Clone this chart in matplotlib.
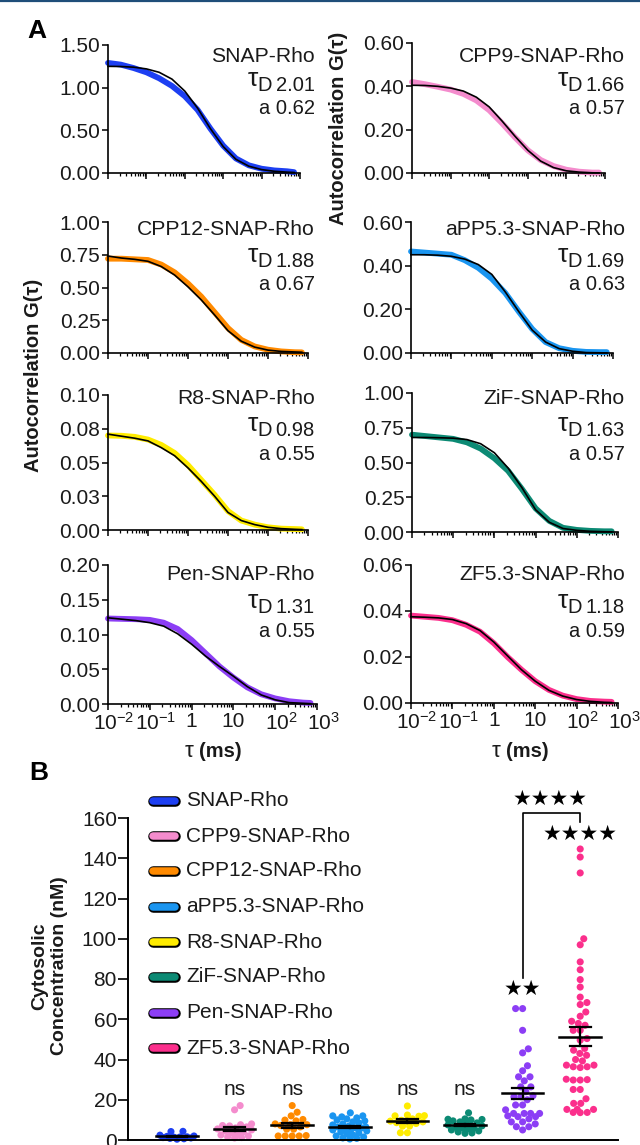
import numpy as np
import matplotlib
matplotlib.use("Agg")
import matplotlib.pyplot as plt
from matplotlib.lines import Line2D
from matplotlib.ticker import FixedLocator, LogLocator, NullFormatter
from matplotlib.transforms import ScaledTranslation

plt.rcParams['font.family'] = ['Liberation Sans', 'DejaVu Sans']
plt.rcParams['mathtext.fontset'] = 'custom'
plt.rcParams['mathtext.rm'] = 'Liberation Sans'
plt.rcParams['mathtext.it'] = 'Liberation Sans:italic'
plt.rcParams['mathtext.bf'] = 'Liberation Sans:bold'

W, H = 640, 1145
TXT = '#1a1a1a'

# ---------- data: panel A (FCS autocorrelation) ----------
names = ["SNAP-Rho", "CPP9-SNAP-Rho", "CPP12-SNAP-Rho", "aPP5.3-SNAP-Rho",
         "R8-SNAP-Rho", "ZiF-SNAP-Rho", "Pen-SNAP-Rho", "ZF5.3-SNAP-Rho"]
colors = ['#1d3ff2', '#f48ccd', '#ff8a00', '#1a95f0',
          '#ffec00', '#0c8a74', '#8c3ef5', '#fb2f8c']
tau_d = ["2.01", "1.66", "1.88", "1.69", "0.98", "1.63", "1.31", "1.18"]
a_val = ["0.62", "0.57", "0.67", "0.63", "0.55", "0.57", "0.55", "0.59"]

tau = [0.01, 0.0215, 0.0464, 0.1, 0.215, 0.464, 1, 2.15, 4.64,
       10, 21.5, 46.4, 100, 215, 464, 700]

g_data = [
    [1.29, 1.27, 1.23, 1.18, 1.11, 1.02, 0.90, 0.74, 0.52, 0.32, 0.17, 0.09, 0.05, 0.03, 0.02, 0.01],
    [0.42, 0.41, 0.398, 0.385, 0.365, 0.335, 0.29, 0.23, 0.165, 0.105, 0.06, 0.032, 0.015, 0.006, 0.002, 0.002],
    [0.72, 0.72, 0.715, 0.71, 0.675, 0.615, 0.53, 0.43, 0.31, 0.19, 0.10, 0.05, 0.025, 0.012, 0.006, 0.005],
    [0.465, 0.46, 0.455, 0.45, 0.425, 0.39, 0.34, 0.275, 0.19, 0.11, 0.05, 0.022, 0.01, 0.005, 0.004, 0.004],
    [0.070, 0.0698, 0.069, 0.067, 0.063, 0.057, 0.048, 0.037, 0.026, 0.014, 0.007, 0.004, 0.002, 0.001, 0.0007, 0.0005],
    [0.70, 0.69, 0.68, 0.67, 0.645, 0.60, 0.53, 0.44, 0.31, 0.17, 0.08, 0.03, 0.015, 0.008, 0.005, 0.005],
    [0.123, 0.1225, 0.122, 0.121, 0.117, 0.108, 0.092, 0.073, 0.054, 0.038, 0.024, 0.014, 0.008, 0.004, 0.002, 0.0015],
    [0.038, 0.0375, 0.037, 0.036, 0.034, 0.031, 0.026, 0.020, 0.0145, 0.0095, 0.0057, 0.0032, 0.0017, 0.0009, 0.0006, 0.0005],
]
g_fit = [
    [1.25, 1.248, 1.24, 1.22, 1.18, 1.10, 0.96, 0.76, 0.52, 0.31, 0.16, 0.08, 0.04, 0.02, 0.01, 0.006],
    [0.405, 0.404, 0.40, 0.392, 0.378, 0.35, 0.305, 0.24, 0.17, 0.105, 0.055, 0.025, 0.01, 0.004, 0.001, 0.0005],
    [0.74, 0.725, 0.715, 0.70, 0.66, 0.595, 0.505, 0.405, 0.29, 0.17, 0.09, 0.045, 0.022, 0.012, 0.008, 0.006],
    [0.45, 0.45, 0.448, 0.443, 0.43, 0.405, 0.36, 0.28, 0.19, 0.105, 0.05, 0.02, 0.008, 0.002, 0.001, 0.0005],
    [0.071, 0.0695, 0.068, 0.066, 0.061, 0.055, 0.046, 0.036, 0.025, 0.013, 0.007, 0.004, 0.002, 0.001, 0.0005, 0.0003],
    [0.68, 0.68, 0.678, 0.675, 0.665, 0.635, 0.57, 0.46, 0.32, 0.16, 0.07, 0.025, 0.012, 0.005, 0.002, 0.001],
    [0.124, 0.122, 0.120, 0.117, 0.112, 0.101, 0.086, 0.069, 0.054, 0.040, 0.025, 0.013, 0.006, 0.002, 0.001, 0.0005],
    [0.0375, 0.0373, 0.037, 0.0363, 0.0345, 0.0315, 0.0265, 0.0205, 0.0145, 0.0095, 0.0055, 0.003, 0.0015, 0.0007, 0.0003, 0.0002],
]

y_ticks = [
    [0, 0.5, 1.0, 1.5], [0, 0.2, 0.4, 0.6], [0, 0.25, 0.5, 0.75, 1.0], [0, 0.2, 0.4, 0.6],
    [0, 0.025, 0.05, 0.075, 0.1], [0, 0.25, 0.5, 0.75, 1.0], [0, 0.05, 0.1, 0.15, 0.2], [0, 0.02, 0.04, 0.06],
]
y_labels = [
    ["0.00", "0.50", "1.00", "1.50"], ["0.00", "0.20", "0.40", "0.60"],
    ["0.00", "0.25", "0.50", "0.75", "1.00"], ["0.00", "0.20", "0.40", "0.60"],
    ["0.00", "0.03", "0.05", "0.08", "0.10"], ["0.00", "0.25", "0.50", "0.75", "1.00"],
    ["0.00", "0.05", "0.10", "0.15", "0.20"], ["0.00", "0.02", "0.04", "0.06"],
]
x_ticks = [0.01, 0.1, 1, 10, 100, 1000]
x_labels = ['10$^{-2}$', '10$^{-1}$', '1', '10', '10$^{2}$', '10$^{3}$']

# ---------- data: panel B (cytosolic concentration, nM) ----------
conc = [
    [4.3, 4.2, 2.4, 2.0, 1.8, 1.6, 1.5, 1.4, 1.2, 1.0, 0.8, 0.6, 0.4],
    [17.1, 15.0, 8.0, 7.6, 7.2, 7.0, 6.5, 6.0, 5.5, 5.0, 4.5, 4.0, 3.5, 3.0, 2.5, 2.0, 1.5, 1.2, 1.0],
    [17.1, 13.8, 12.0, 10.2, 9.9, 9.5, 8.0, 7.6, 7.6, 7.2, 6.5, 5.4, 5.4, 2.2, 2.0, 2.0, 2.0, 2.0],
    [13.5, 12, 12, 11.5, 11, 10.5, 10, 9.5, 9, 8.5, 8, 7.5, 7, 6.5, 6.5, 6, 6, 5.5, 5, 5,
     4.5, 4, 3.5, 3, 2.5, 2, 1.5, 1, 0.8, 0.5],
    [16.9, 12.4, 12.1, 12.0, 11.8, 10.5, 9.8, 9.4, 9.4, 9.0, 8.6, 8.2, 6.9, 6.9, 3.6, 3.6],
    [13.5, 10.5, 10.3, 10.2, 10, 9.5, 9, 8.5, 8, 7.5, 7, 6.5, 6, 6, 5.5, 5, 4.5, 4, 3.5, 3.3],
    [65.3, 65.3, 54.5, 45.3, 43.3, 36.9, 34.4, 31.4, 31.4, 29.4, 26.4, 26.4, 24, 22, 21.5, 21.5,
     20, 17.4, 17.4, 15, 13.2, 13.2, 13.2, 13.2, 12, 11.6, 11.6, 10.5, 9, 9, 8, 6.6, 6.6, 5],
    [144.6, 140.6, 132.7, 100, 97, 88.5, 84.6, 79.7, 76, 71, 68.3, 67.3, 63.6, 61.5, 59, 57.9, 57,
     54.5, 54.5, 50.4, 49.6, 45.5, 44.6, 43, 42.1, 40, 39.3, 37.2, 37.2, 36.4, 36.4, 36, 30.2,
     30, 29.8, 29.8, 25.1, 25.1, 20.5, 18.2, 18.2, 15.2, 15.2, 15.2, 13.7, 13.7, 13.6],
]
sig_labels = ["", "ns", "ns", "ns", "ns", "ns", "★★", "★★★★"]
b_ticks = [0, 20, 40, 60, 80, 100, 120, 140, 160]


def fx(x):
    return x / W


def fy(y):
    return 1 - y / H


def px_axes(l, r, t, b):
    return fig.add_axes([fx(l), fy(b), (r - l) / W, (b - t) / H])


fig = plt.figure(figsize=(W / 100, H / 100), dpi=100)
fig.add_artist(Line2D([0, 1], [fy(1), fy(1)], color='#1f4e79', lw=1.6,
                      transform=fig.transFigure))

# ---------- panel A ----------
boxes = [(108, 300, 45, 173), (412, 605, 43, 173),
         (108, 308, 222, 353), (411, 613, 222, 353),
         (108, 308, 395, 530), (412, 618, 393, 532),
         (108, 317, 565, 704), (411, 618, 565, 703)]
name_base = [62, 235, 404, 580]
val_base = [91, 267, 436, 613]
a_base = [114, 290, 460, 637]
text_right = [315, 625]

value_texts = []
for i in range(8):
    row, col = divmod(i, 2)
    ax = px_axes(*boxes[i])
    ax.plot(tau, g_data[i], color=colors[i], lw=4.2, solid_capstyle='round',
            solid_joinstyle='round', clip_on=False, zorder=2)
    ax.plot(tau, g_fit[i], color='black', lw=1.2, clip_on=False, zorder=3)
    ax.set_xscale('log')
    ax.set_xlim(0.01, 1000)
    ax.set_ylim(0, y_ticks[i][-1])
    ax.xaxis.set_major_locator(FixedLocator(x_ticks))
    ax.xaxis.set_minor_locator(LogLocator(base=10, subs=np.arange(2, 10), numticks=20))
    ax.xaxis.set_minor_formatter(NullFormatter())
    ax.yaxis.set_major_locator(FixedLocator(y_ticks[i]))
    ax.set_yticklabels(y_labels[i])
    for s in ['top', 'right']:
        ax.spines[s].set_visible(False)
    for s in ['left', 'bottom']:
        ax.spines[s].set_linewidth(1.2)
    ax.tick_params(which='major', direction='out', length=4.5, width=1.1,
                   labelsize=15, labelcolor=TXT, pad=1)
    ax.tick_params(which='minor', direction='out', length=2.2, width=0.9)
    if row == 3:
        ax.set_xticklabels(x_labels)
        for lab in ax.get_xticklabels():
            if '$' in lab.get_text():
                lab.set_transform(lab.get_transform() +
                                  ScaledTranslation(0.06, 0, fig.dpi_scale_trans))
    else:
        ax.tick_params(axis='x', labelbottom=False)

    xr = fx(text_right[col])
    fig.text(xr, fy(name_base[row]), names[i], ha='right', va='baseline',
             fontsize=15.2, color=TXT)
    tv = fig.text(xr, fy(val_base[row]), tau_d[i], ha='right', va='baseline',
                  fontsize=14.5, color=TXT)
    fig.text(xr, fy(a_base[row]), "a " + a_val[i], ha='right', va='baseline',
             fontsize=14.5, color=TXT)
    value_texts.append((tv, row))

fig.canvas.draw()
rend = fig.canvas.get_renderer()
for tv, row in value_texts:
    bb = tv.get_window_extent(rend)
    td = fig.text(fx(bb.x0 - 4), fy(val_base[row]), "D", ha='right', va='baseline',
                  fontsize=14.5, color=TXT)
    bd = td.get_window_extent(rend)
    fig.text(fx(bd.x0 + 0.5), fy(val_base[row] - 5), "τ", ha='right', va='baseline',
             fontsize=19, color=TXT)

fig.text(fx(34), fy(375), "Autocorrelation G(τ)", rotation=90, ha='center', va='center',
         fontsize=14.5, fontweight='bold', color=TXT)
fig.text(fx(339), fy(128), "Autocorrelation G(τ)", rotation=90, ha='center', va='center',
         fontsize=14.5, fontweight='bold', color=TXT)
for xc in [210, 517]:
    fig.text(fx(xc - 17), fy(757), "τ", ha='right', va='baseline', fontsize=16, color=TXT)
    fig.text(fx(xc - 11), fy(757), "(ms)", ha='left', va='baseline', fontsize=14.5,
             fontweight='bold', color=TXT)

fig.text(fx(27), fy(31), "A", ha='left', va='center', fontsize=19, fontweight='bold')
fig.text(fx(29), fy(773), "B", ha='left', va='center', fontsize=19, fontweight='bold')

# ---------- panel B ----------
axb = px_axes(128, 618, 818, 1140)
axb.set_xlim(-0.85, 7.656)
axb.set_ylim(0, 160)
px_x = (618 - 128) / (7.656 + 0.85)
px_y = (1140 - 818) / 160.0


def swarm(vals, d=7.0, cap=17.0):
    # simple beeswarm in pixel units, limited to +-cap pixels
    order = np.argsort(vals)
    placed = []
    offs = np.zeros(len(vals))
    grid = np.arange(-cap, cap + 0.5, 1.0)
    for k in order:
        y = vals[k] * px_y
        cands = [0.0] + list(grid)
        for (px, py) in placed:
            dy = y - py
            if abs(dy) < d:
                dx = np.sqrt(d * d - dy * dy)
                cands += [px + dx, px - dx]
        cands = [c for c in cands if abs(c) <= cap]
        best = None
        for c in sorted(cands, key=abs):
            if all((c - px) ** 2 + (y - py) ** 2 >= d * d - 1e-6 for px, py in placed):
                best = c
                break
        if best is None:
            best = max(cands, key=lambda c: min((c - px) ** 2 + (y - py) ** 2
                                                 for px, py in placed))
        offs[k] = best
        placed.append((best, y))
    return offs / px_x


for i, vals in enumerate(conc):
    vals = np.array(vals)
    xs = i + swarm(vals)
    axb.scatter(xs, vals, s=26, color=colors[i], edgecolors='none', zorder=2, clip_on=False)
    m = vals.mean()
    sem = vals.std(ddof=1) / np.sqrt(len(vals))
    axb.plot([i - 0.36, i + 0.36], [m, m], color='black', lw=1.8, zorder=3)
    axb.plot([i, i], [m - sem, m + sem], color='black', lw=1.6, zorder=3)
    for yy in [m - sem, m + sem]:
        axb.plot([i - 0.18, i + 0.18], [yy, yy], color='black', lw=1.6, zorder=3)
    if sig_labels[i] == "ns":
        axb.text(i, 25, "ns", ha='center', va='center', fontsize=15, color=TXT)

axb.text(6, 75, "★★", ha='center', va='center', fontsize=15, color='black')
axb.plot([6, 6, 7, 7], [80.5, 162.7, 162.7, 158], color='black', lw=1.2, clip_on=False)
axb.text(6.48, 169, "★★★★", ha='center', va='center', fontsize=15, color='black', clip_on=False)
axb.text(7.0, 151.7, "★★★★", ha='center', va='center', fontsize=15, color='black', clip_on=False)

axb.yaxis.set_major_locator(FixedLocator(b_ticks))
axb.set_xticks([])
for s in ['top', 'right']:
    axb.spines[s].set_visible(False)
for s in ['left', 'bottom']:
    axb.spines[s].set_linewidth(1.4)
axb.tick_params(axis='y', direction='out', length=7, width=1.2, labelsize=15,
                labelcolor=TXT, pad=1)

fig.text(fx(50), fy(966), "Cytosolic\nConcentration (nM)", rotation=90, ha='center',
         va='center', fontsize=14, fontweight='bold', color=TXT, linespacing=1.2,
         multialignment='center')

leg_y = [801, 836, 871, 907, 942, 977, 1013, 1048]
for i in range(8):
    yy = fy(leg_y[i])
    fig.add_artist(Line2D([fx(153), fx(175)], [yy, yy], color='black', lw=7.6,
                          solid_capstyle='round', transform=fig.transFigure))
    fig.add_artist(Line2D([fx(153), fx(175)], [yy, yy], color=colors[i], lw=5.4,
                          solid_capstyle='round', transform=fig.transFigure))
    fig.text(fx(186), yy, names[i], ha='left', va='center', fontsize=15, color=TXT)

fig.savefig("out.png", dpi=100)
